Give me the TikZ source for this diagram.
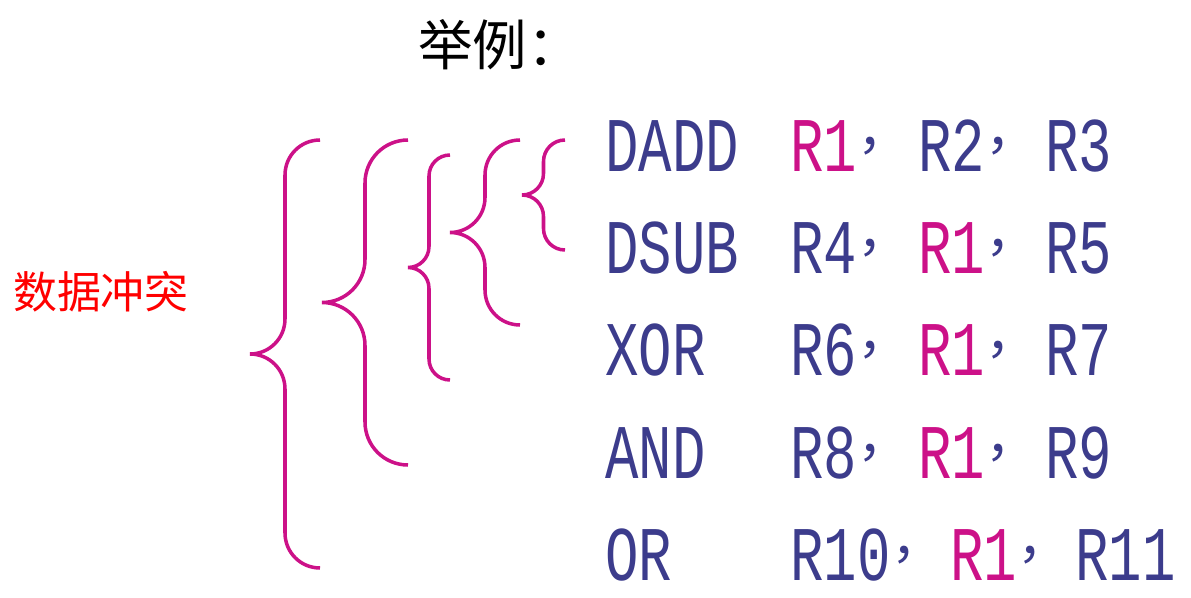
\documentclass[tikz,border=0pt]{standalone}
\usepackage{fontspec}
\newfontfamily\cjk{Noto Sans CJK SC}
\newfontfamily\codefont[FakeStretch=0.72]{Liberation Mono}
\definecolor{codeblue}{HTML}{3C3C8C}
\definecolor{hazard}{HTML}{CC1188}
% left curly brace: end x, tip x, top y, bottom y
\newcommand{\hzbrace}[4]{%
  \pgfmathsetmacro\br{(#1-#2)/2}%
  \pgfmathsetmacro\bm{#2+\br}%
  \pgfmathsetmacro\bc{(#3+#4)/2}%
  \draw[bracepath] (#1,#3) to[out=180,in=90] (\bm,#3+\br) -- (\bm,\bc-\br)
    to[out=270,in=0] (#2,\bc) to[out=0,in=90] (\bm,\bc+\br) -- (\bm,#4-\br)
    to[out=270,in=180] (#1,#4);}

\begin{document}
\begin{tikzpicture}[x=0.02cm,y=-0.02cm,
  tok/.style={anchor=west,inner sep=0pt,text=codeblue,font=\codefont\fontsize{44}{44}\selectfont},
  reg/.style={tok,text=hazard},
  comma/.style={anchor=west,inner sep=0pt,text=codeblue,font=\cjk\fontsize{30}{30}\selectfont},
  bracepath/.style={draw=hazard,line width=2pt}]
\useasboundingbox (0,0) rectangle (1191,598);

\node[font=\cjk\fontsize{31}{31}\selectfont] (title) at (500,45) {举例：};
\node[text=red,font=\cjk\fontsize{25}{25}\selectfont] (hz) at (101,292) {数据冲突};

% instructions
\node[tok] (op1) at (605,146) {DADD};
\node[reg] (a1) at (790,146) {R1}; \node[comma] (c1) at (a1.east) {，};
\node[tok] (b1) at (918,146) {R2}; \node[comma] (d1) at (b1.east) {，};
\node[tok] (e1) at (1045,146) {R3};

\node[tok] (op2) at (605,248) {DSUB};
\node[tok] (a2) at (790,248) {R4}; \node[comma] (c2) at (a2.east) {，};
\node[reg] (b2) at (918,248) {R1}; \node[comma] (d2) at (b2.east) {，};
\node[tok] (e2) at (1045,248) {R5};

\node[tok] (op3) at (605,350) {XOR};
\node[tok] (a3) at (790,350) {R6}; \node[comma] (c3) at (a3.east) {，};
\node[reg] (b3) at (918,350) {R1}; \node[comma] (d3) at (b3.east) {，};
\node[tok] (e3) at (1045,350) {R7};

\node[tok] (op4) at (605,453) {AND};
\node[tok] (a4) at (790,453) {R8}; \node[comma] (c4) at (a4.east) {，};
\node[reg] (b4) at (918,453) {R1}; \node[comma] (d4) at (b4.east) {，};
\node[tok] (e4) at (1045,453) {R9};

\node[tok] (op5) at (605,555) {OR};
\node[tok] (a5) at (790,555) {R10}; \node[comma] (c5) at (a5.east) {，};
\node[reg] (b5) at (950,555) {R1}; \node[comma] (d5) at (b5.east) {，};
\node[tok] (e5) at (1075,555) {R11};

% braces
\hzbrace{320}{250}{140}{568}
\hzbrace{408}{322}{140}{465}
\hzbrace{450}{408}{155}{380}
\hzbrace{520}{450}{140}{325}
\hzbrace{565}{522}{140}{250}
\end{tikzpicture}
\end{document}
